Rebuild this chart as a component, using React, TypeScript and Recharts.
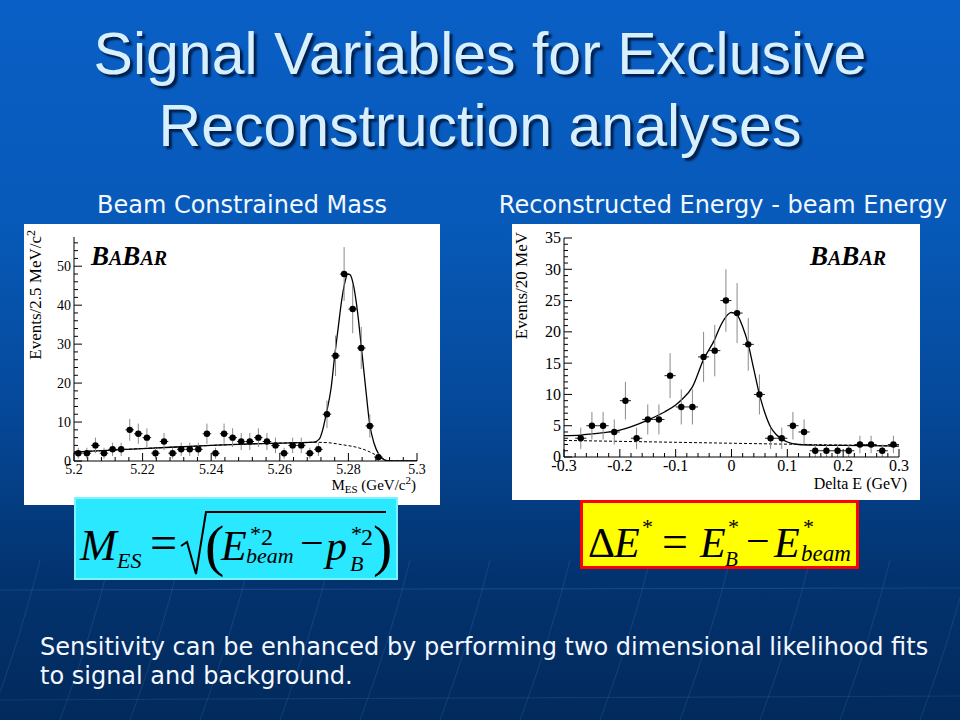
import React from 'react'
import { ComposedChart, Scatter, Line, XAxis, YAxis, ErrorBar } from 'recharts'

// ---------- M_ES histogram: 2.5 MeV bins starting at 5.20 GeV ----------
const MES_LO = 5.2
const MES_BIN = 0.0025
const mesCounts = [2, 2, 4, 2, 3, 3, 8, 7, 6, 2, 5, 2, 3, 3, 3, 7, 2, 7, 6, 5, 5, 6, 5, 4, 2, 4, 4, 2, 3, 12, 27, 48, 39, 29, 9, 1]
const mesErrors = [1.4, 1.4, 2, 1.4, 1.7, 1.7, 2.8, 2.6, 2.4, 1.4, 2.2, 1.4, 1.7, 1.7, 1.7, 2.6, 1.4, 2.6, 2.4, 2.2, 2.2, 2.4, 2.2, 2, 1.4, 2, 2, 1.4, 1.7, 3.5, 5.2, 6.9, 6.2, 5.4, 3, 1]
// fitted curves
const mesFit: [number, number][] = [
  [5.2, 2.3], [5.21, 2.75], [5.22, 3.2], [5.23, 3.6], [5.24, 4.0], [5.25, 4.35], [5.26, 4.6], [5.27, 4.85],
  [5.2715, 5.6], [5.2725, 8], [5.2735, 12], [5.275, 19], [5.276, 27], [5.277, 34], [5.278, 41], [5.279, 46],
  [5.2798, 48], [5.2805, 47.8], [5.2815, 45], [5.2827, 38], [5.2838, 29], [5.285, 19], [5.2862, 9.5],
  [5.2875, 4.5], [5.289, 1.5], [5.2905, 0.3], [5.292, 0], [5.3, 0],
]
const mesBkg: [number, number][] = [
  [5.2, 2.3], [5.21, 2.75], [5.22, 3.2], [5.23, 3.6], [5.24, 4.0], [5.25, 4.35], [5.26, 4.6], [5.27, 4.8],
  [5.274, 4.7], [5.278, 4.2], [5.282, 3.6], [5.285, 2.8], [5.287, 2.0], [5.289, 1.1], [5.2905, 0.3], [5.292, 0], [5.3, 0],
]
const mesMajorX = [5.2, 5.22, 5.24, 5.26, 5.28, 5.3]
const mesLabelX = ['5.2', '5.22', '5.24', '5.26', '5.28', '5.3']
const mesMajorY = [0, 10, 20, 30, 40, 50, 60]
const mesLabelY = ['0', '10', '20', '30', '40', '50', '60']

// ---------- Delta E histogram: 20 MeV bins, first filled bin at -0.27 ----------
const DE_FIRST = -0.27
const DE_BIN = 0.02
const deCounts = [3, 5, 5, 4, 9, 3, 6, 6, 13, 8, 8, 16, 17, 25, 23, 18, 10, 3, 3, 5, 4, 1, 1, 1, 1, 2, 2, 1, 2]
const deErrors = [1.7, 2.2, 2.2, 2, 3, 1.7, 2.4, 2.4, 3.6, 2.8, 2.8, 4, 4.1, 5, 4.8, 4.2, 3.2, 1.7, 1.7, 2.2, 2, 1, 1, 1, 1, 1.4, 1.4, 1, 1.4]
const deFit: [number, number][] = [
  [-0.3, 3.4], [-0.27, 3.5], [-0.25, 3.7], [-0.2, 4.3], [-0.15, 5.9], [-0.12, 7.2], [-0.1, 8.3], [-0.09, 9.1],
  [-0.07, 11.2], [-0.05, 15.6], [-0.03, 18.8], [-0.02, 20.9], [-0.01, 22.4], [0, 23.1], [0.01, 22.7], [0.02, 20.8],
  [0.03, 18], [0.04, 14], [0.05, 10], [0.06, 7], [0.07, 4.8], [0.08, 3.6], [0.09, 2.9], [0.1, 2.4], [0.12, 2.0],
  [0.15, 1.9], [0.2, 1.85], [0.3, 1.75],
]
const deBkg: [number, number][] = [[-0.3, 2.65], [0, 2.2], [0.3, 1.75]]
const deMajorX = [-0.3, -0.2, -0.1, 0, 0.1, 0.2, 0.3]
const deLabelX = ['-0.3', '-0.2', '-0.1', '0', '0.1', '0.2', '0.3']
const deMajorY = [0, 5, 10, 15, 20, 25, 30, 35]
const deLabelY = ['0', '5', '10', '15', '20', '25', '30', '35']

const subdivide = (majors: number[], n: number, max: number) => {
  const out: number[] = []
  for (let i = 0; i < majors.length - 1; i++) {
    const step = (majors[i + 1] - majors[i]) / n
    for (let k = 0; k < n; k++) out.push(+(majors[i] + k * step).toFixed(6))
  }
  out.push(majors[majors.length - 1])
  return out.filter((v) => v <= max + 1e-9)
}

type Side = 'bottom' | 'top' | 'left' | 'right'

// ROOT style: ticks point into the frame; `edge` is the frame line for that side
function tickRenderer(side: Side, edge: number, majors: number[], labels: string[] | null, fs: number) {
  return (props: any) => {
    const { x, y, payload } = props
    const idx = majors.findIndex((m) => Math.abs(m - payload.value) < 1e-7)
    const len = idx >= 0 ? 8 : 4
    const lab = labels && idx >= 0 ? labels[idx] : null
    const horiz = side === 'bottom' || side === 'top'
    const c = horiz ? x : y
    let l = { x1: c, y1: edge, x2: c, y2: edge }
    if (side === 'bottom') l = { x1: c, x2: c, y1: edge, y2: edge - len }
    if (side === 'top') l = { x1: c, x2: c, y1: edge, y2: edge + len }
    if (side === 'left') l = { y1: c, y2: c, x1: edge, x2: edge + len }
    if (side === 'right') l = { y1: c, y2: c, x1: edge, x2: edge - len }
    return (
      <g>
        <line {...l} stroke="#000" strokeWidth={1} />
        {lab != null && side === 'bottom' && (
          <text x={c} y={edge + fs * 0.9} textAnchor="middle" fontSize={fs} fontFamily="Liberation Serif" fill="#000">
            {lab}
          </text>
        )}
        {lab != null && side === 'left' && (
          <text x={edge - 3} y={c + fs * 0.34} textAnchor="end" fontSize={fs} fontFamily="Liberation Serif" fill="#000">
            {lab}
          </text>
        )}
      </g>
    )
  }
}

type PanelProps = {
  w: number
  h: number
  ml: number
  mr: number
  mt: number
  mb: number
  xDomain: [number, number]
  yDomain: [number, number]
  xMajor: number[]
  xLabels: string[]
  yMajor: number[]
  yLabels: string[]
  fs: number
  points: { x: number; y: number; ey: number; ex: number }[]
  fit: [number, number][]
  bkg: [number, number][]
}

function Panel(p: PanelProps) {
  const xTicks = subdivide(p.xMajor, 5, p.xDomain[1])
  const yTicks = subdivide(p.yMajor, 5, p.yDomain[1])
  const fitData = p.fit.map(([x, y]) => ({ x, y }))
  const bkgData = p.bkg.map(([x, y]) => ({ x, y }))
  const left = p.ml
  const right = p.w - p.mr
  const top = p.mt
  const bottom = p.h - p.mb
  const axisCommon = { type: 'number' as const, allowDataOverflow: true, interval: 0 as const, tickSize: 0, tickMargin: 0, tickLine: false, axisLine: { stroke: '#000' } }
  return (
    <ComposedChart width={p.w} height={p.h} margin={{ top: p.mt, right: p.mr, bottom: 0, left: 0 }}>
      <XAxis xAxisId="b" orientation="bottom" dataKey="x" domain={p.xDomain} ticks={xTicks} height={p.mb} tick={tickRenderer('bottom', bottom, p.xMajor, p.xLabels, p.fs)} {...axisCommon} />
      <XAxis xAxisId="t" orientation="top" dataKey="x" domain={p.xDomain} ticks={xTicks} height={0} tick={tickRenderer('top', top, p.xMajor, null, p.fs)} {...axisCommon} />
      <YAxis yAxisId="l" orientation="left" dataKey="y" domain={p.yDomain} ticks={yTicks} width={p.ml} tick={tickRenderer('left', left, p.yMajor, p.yLabels, p.fs)} {...axisCommon} />
      <YAxis yAxisId="r" orientation="right" dataKey="y" domain={p.yDomain} ticks={yTicks} width={0} tick={tickRenderer('right', right, p.yMajor, null, p.fs)} {...axisCommon} />
      <Line xAxisId="b" yAxisId="l" data={bkgData} dataKey="y" type="monotone" stroke="#000" strokeWidth={1} strokeDasharray="3 2" dot={false} isAnimationActive={false} />
      <Line xAxisId="b" yAxisId="l" data={fitData} dataKey="y" type="monotone" stroke="#000" strokeWidth={1.3} dot={false} isAnimationActive={false} />
      <Scatter
        xAxisId="b"
        yAxisId="l"
        data={p.points}
        isAnimationActive={false}
        shape={(s: any) => <circle cx={s.cx} cy={s.cy} r={3.2} fill="#000" />}
      >
        <ErrorBar dataKey="ey" direction="y" width={0} stroke="#8a8a8a" strokeWidth={1} />
        <ErrorBar dataKey="ex" direction="x" width={0} stroke="#222" strokeWidth={1} />
      </Scatter>
    </ComposedChart>
  )
}

const mesPoints = mesCounts.map((y, i) => ({ x: MES_LO + (i + 0.5) * MES_BIN, y, ey: mesErrors[i], ex: MES_BIN / 2 }))
const dePoints = deCounts.map((y, i) => ({ x: DE_FIRST + i * DE_BIN, y, ey: deErrors[i], ex: DE_BIN / 2 }))

const serif = 'Liberation Serif'

function Babar({ x, y }: { x: number; y: number }) {
  return (
    <text x={x} y={y} fontFamily={serif} fontStyle="italic" fontWeight="bold" fill="#000">
      <tspan fontSize={27}>B</tspan>
      <tspan fontSize={20}>A</tspan>
      <tspan fontSize={27}>B</tspan>
      <tspan fontSize={20}>AR</tspan>
    </text>
  )
}

function Background() {
  const slants = [0, 70, 140, 210, 290, 370, 450, 530, 610, 690, 770, 850, 930]
  return (
    <svg width={960} height={720} style={{ position: 'absolute', left: 0, top: 0 }}>
      <line x1={0} y1={590} x2={960} y2={588} stroke="rgba(110,160,235,0.18)" strokeWidth={1.2} />
      <line x1={0} y1={700} x2={960} y2={696} stroke="rgba(110,160,235,0.14)" strokeWidth={1.2} />
      {slants.map((sx, i) => (
        <path key={i} d={`M${sx + 40},560 Q${sx + 20},640 ${sx - 10},720`} stroke="rgba(110,160,235,0.16)" strokeWidth={1} fill="none" />
      ))}
    </svg>
  )
}

function Formulas() {
  const it = { fontFamily: serif, fontStyle: 'italic' as const, fill: '#000' }
  const up = { fontFamily: serif, fill: '#000' }
  return (
    <svg width={960} height={720} style={{ position: 'absolute', left: 0, top: 0 }}>
      {/* M_ES box */}
      <rect x={75} y={498} width={322} height={81} fill="#2ae8ff" stroke="#7af3ff" strokeWidth={2} />
      <text x={80} y={560} fontSize={44} {...it}>M</text>
      <text x={117} y={568} fontSize={22} {...it}>ES</text>
      <text x={150} y={559} fontSize={48} {...up}>=</text>
      <path d="M181,546 L187,542 L196,574 L206,512 L386,512" stroke="#000" strokeWidth={2} fill="none" />
      <text x={205} y={565} fontSize={58} {...up}>(</text>
      <text x={221} y={560} fontSize={42} {...it}>E</text>
      <text x={250} y={541} fontSize={22} {...up}>*</text>
      <text x={261} y={545} fontSize={24} {...up}>2</text>
      <text x={246} y={563} fontSize={22} {...it}>beam</text>
      <text x={300} y={557} fontSize={42} {...up}>−</text>
      <text x={326} y={560} fontSize={42} {...it}>p</text>
      <text x={351} y={541} fontSize={22} {...up}>*</text>
      <text x={361} y={545} fontSize={24} {...up}>2</text>
      <text x={350} y={571} fontSize={22} {...it}>B</text>
      <text x={373} y={565} fontSize={58} {...up}>)</text>

      {/* Delta E box */}
      <rect x={581.5} y={501.5} width={276} height={66} fill="#ffff00" stroke="#ff0000" strokeWidth={3} />
      <text x={588} y={557} fontSize={42} {...up}>Δ</text>
      <text x={614} y={557} fontSize={42} {...it}>E</text>
      <text x={642} y={534} fontSize={22} {...up}>*</text>
      <text x={662} y={557} fontSize={46} {...up}>=</text>
      <text x={700} y={557} fontSize={42} {...it}>E</text>
      <text x={728} y={534} fontSize={22} {...up}>*</text>
      <text x={725} y={566} fontSize={21} {...it}>B</text>
      <text x={746} y={555} fontSize={42} {...up}>−</text>
      <text x={774} y={557} fontSize={42} {...it}>E</text>
      <text x={803} y={534} fontSize={22} {...up}>*</text>
      <text x={801} y={561} fontSize={23} {...it}>beam</text>
    </svg>
  )
}

const sans = 'DejaVu Sans'

export default function App() {
  const titleStyle: React.CSSProperties = {
    position: 'absolute',
    left: 0,
    width: 960,
    textAlign: 'center',
    fontFamily: 'Liberation Sans',
    fontSize: 59,
    lineHeight: '59px',
    color: '#d8effd',
    textShadow: '3px 3px 2px #00204d',
    whiteSpace: 'nowrap',
  }
  const subStyle: React.CSSProperties = {
    position: 'absolute',
    top: 193,
    width: 500,
    textAlign: 'center',
    fontFamily: sans,
    fontSize: 24,
    lineHeight: '24px',
    color: '#f4f8ff',
    whiteSpace: 'nowrap',
  }
  return (
    <div
      style={{
        position: 'absolute',
        left: 0,
        top: 0,
        width: 960,
        height: 720,
        overflow: 'hidden',
        background: 'linear-gradient(180deg, #0a5fc6 0%, #075ab9 30%, #054a9c 55%, #03336f 80%, #022a5c 100%)',
      }}
    >
      <Background />
      <div style={{ ...titleStyle, top: 25 }}>Signal Variables for Exclusive</div>
      <div style={{ ...titleStyle, top: 97 }}>Reconstruction analyses</div>
      <div style={{ ...subStyle, left: 242 - 250 }}>Beam Constrained Mass</div>
      <div style={{ ...subStyle, left: 723 - 250 }}>Reconstructed Energy - beam Energy</div>

      <div style={{ position: 'absolute', left: 24, top: 224, width: 416, height: 281, background: '#fff' }}>
        <Panel
          w={416}
          h={281}
          ml={50}
          mr={23}
          mt={13}
          mb={44}
          xDomain={[5.2, 5.3]}
          yDomain={[0, 57.5]}
          xMajor={mesMajorX}
          xLabels={mesLabelX}
          yMajor={mesMajorY}
          yLabels={mesLabelY}
          fs={14}
          points={mesPoints}
          fit={mesFit}
          bkg={mesBkg}
        />
        <svg width={416} height={281} style={{ position: 'absolute', left: 0, top: 0, pointerEvents: 'none' }}>
          <Babar x={67} y={41} />
          <text transform="translate(17,6) rotate(-90)" textAnchor="end" fontFamily={serif} fontSize={17} fill="#000">
            Events/2.5 MeV/c<tspan fontSize={12} dy={-6}>2</tspan>
          </text>
          <text x={392} y={266} textAnchor="end" fontFamily={serif} fontSize={15} fill="#000">
            M<tspan fontSize={11} dy={3}>ES</tspan>
            <tspan dy={-3}> (GeV/c</tspan>
            <tspan fontSize={11} dy={-6}>2</tspan>
            <tspan dy={6}>)</tspan>
          </text>
        </svg>
      </div>

      <div style={{ position: 'absolute', left: 512, top: 224, width: 408, height: 276, background: '#fff' }}>
        <Panel
          w={408}
          h={276}
          ml={52}
          mr={21}
          mt={14}
          mb={43}
          xDomain={[-0.3, 0.3]}
          yDomain={[0, 35]}
          xMajor={deMajorX}
          xLabels={deLabelX}
          yMajor={deMajorY}
          yLabels={deLabelY}
          fs={16}
          points={dePoints}
          fit={deFit}
          bkg={deBkg}
        />
        <svg width={408} height={276} style={{ position: 'absolute', left: 0, top: 0, pointerEvents: 'none' }}>
          <Babar x={298} y={41} />
          <text transform="translate(15,8) rotate(-90)" textAnchor="end" fontFamily={serif} fontSize={17} fill="#000">
            Events/20 MeV
          </text>
          <text x={395} y={265} textAnchor="end" fontFamily={serif} fontSize={16} fill="#000">
            Delta E (GeV)
          </text>
        </svg>
      </div>

      <Formulas />

      <div
        style={{
          position: 'absolute',
          left: 40,
          top: 633,
          width: 910,
          fontFamily: sans,
          fontSize: 24,
          lineHeight: '29px',
          color: '#f4f8ff',
          whiteSpace: 'nowrap',
        }}
      >
        Sensitivity can be enhanced by performing two dimensional likelihood fits
        <br />
        to signal and background.
      </div>
    </div>
  )
}
